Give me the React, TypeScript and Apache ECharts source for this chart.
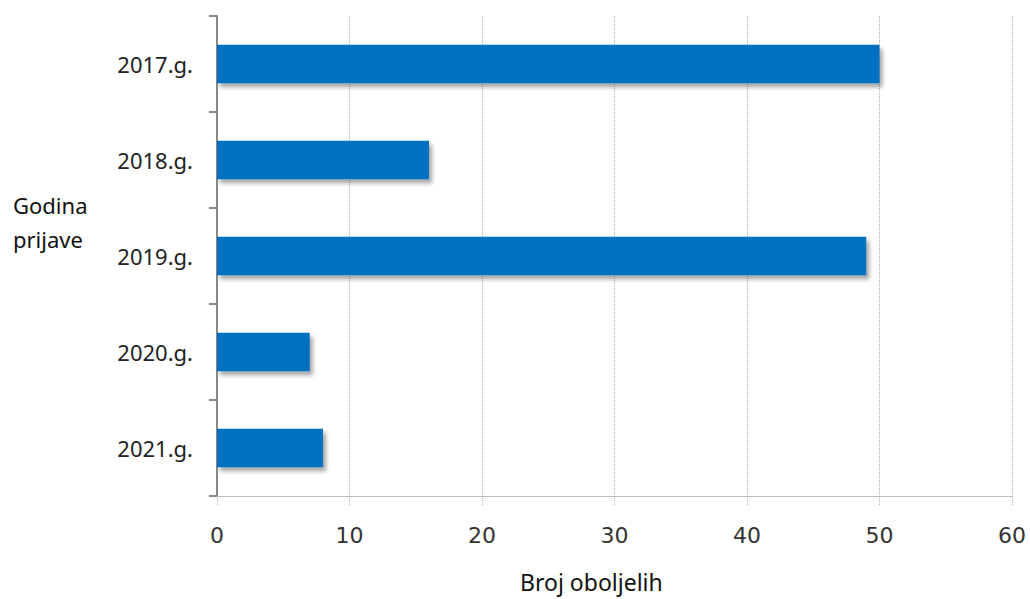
import React, { useEffect, useRef } from "react";
import * as echarts from "echarts";

const categories = ["2017.g.", "2018.g.", "2019.g.", "2020.g.", "2021.g."];
const values = [50, 16, 49, 7, 8];
const xTicks = { min: 0, max: 60, interval: 10 };

export default function App() {
  const ref = useRef<HTMLDivElement>(null);
  useEffect(() => {
    document.body.style.margin = "0";
    const chart = echarts.init(ref.current!, null, { renderer: "svg" });
    chart.setOption({
      animation: false,
      backgroundColor: "#ffffff",
      grid: { left: 217, right: 18, top: 16, bottom: 103 },
      xAxis: {
        type: "value",
        min: xTicks.min,
        max: xTicks.max,
        interval: xTicks.interval,
        axisLine: { show: true, lineStyle: { color: "#b0b0b0", type: "dotted", width: 1 } },
        axisTick: { show: true, length: 9, lineStyle: { color: "#b0b0b0", type: "dotted" } },
        splitLine: { show: true, lineStyle: { color: "#b0b0b0", type: "dotted", width: 1 } },
        axisLabel: { margin: 28, fontSize: 22, color: "#333", fontFamily: "DejaVu Sans" },
      },
      yAxis: {
        type: "category",
        inverse: true,
        data: categories,
        axisLine: { show: true, lineStyle: { color: "#888", width: 2 } },
        axisTick: { show: true, length: 8, lineStyle: { color: "#888", width: 2 } },
        axisLabel: { margin: 24, fontSize: 22, color: "#222", fontFamily: "Noto Sans" },
      },
      series: [
        {
          type: "bar",
          data: values,
          barWidth: "40%",
          itemStyle: {
            color: "#0070C0",
            shadowColor: "rgba(0,0,0,0.35)",
            shadowBlur: 4,
            shadowOffsetX: 3,
            shadowOffsetY: 4,
          },
        },
      ],
      graphic: [
        {
          type: "text",
          left: 13,
          top: 188,
          style: {
            text: "Godina\nprijave",
            fontSize: 22,
            lineHeight: 34,
            fill: "#111",
            fontFamily: "Noto Sans",
          },
        },
        {
          type: "text",
          left: 520,
          top: 570,
          style: {
            text: "Broj oboljelih",
            fontSize: 23,
            fill: "#111",
            fontFamily: "Noto Sans",
          },
        },
      ],
    });
    return () => chart.dispose();
  }, []);
  return <div ref={ref} style={{ width: 1030, height: 599 }} />;
}
